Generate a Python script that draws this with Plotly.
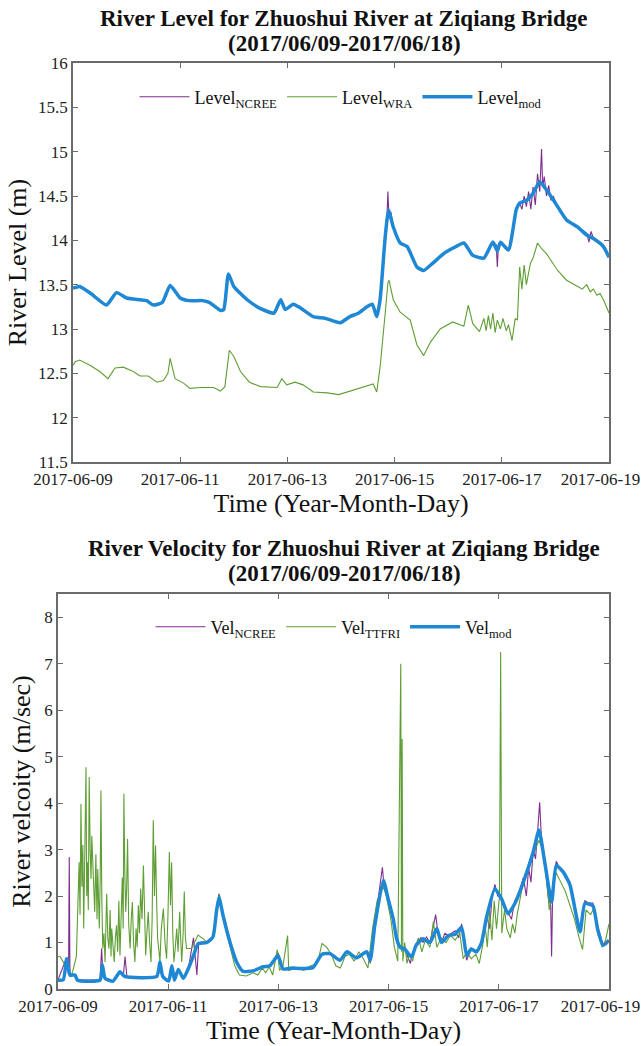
import pandas as pd
import plotly.graph_objects as go

T0 = pd.Timestamp("2017-06-09 00:00")

# ---------------- Top: river level (hours after 2017-06-09 00:00, metres) ----------------
lvl_mod_h = [0, 3, 8, 15, 19.5, 24, 30, 33, 36, 40, 43.5, 48, 52, 58, 61, 66, 67.5, 69.6, 72, 78,
             84, 90, 93, 95, 98.6, 101.7, 107.5, 113, 119.6, 124, 128, 131.6, 134, 136, 137.5,
             139.8, 141.3, 143.4, 146.5, 149.6, 154, 157, 161, 166, 170, 175, 179, 184, 188, 190,
             191.4, 195, 198.5, 200, 203, 206, 209, 212, 217, 221, 226, 230, 233, 237.5, 240]
lvl_mod_v = [13.46, 13.48, 13.40, 13.27, 13.41, 13.35, 13.33, 13.32, 13.27, 13.30, 13.49, 13.35,
             13.32, 13.32, 13.30, 13.21, 13.22, 13.62, 13.48, 13.33, 13.23, 13.18, 13.33, 13.22,
             13.28, 13.24, 13.14, 13.12, 13.07, 13.14, 13.18, 13.25, 13.28, 13.14, 13.33, 14.04,
             14.34, 14.15, 13.97, 13.93, 13.70, 13.66, 13.74, 13.85, 13.91, 13.97, 13.83, 13.80,
             13.98, 13.88, 13.98, 13.89, 14.35, 14.42, 14.45, 14.53, 14.66, 14.57, 14.38, 14.23,
             14.15, 14.06, 14.02, 13.93, 13.81]

lvl_ncree_h = [0, 3, 8, 15, 19.5, 24, 30, 33, 36, 40, 43.5, 48, 52, 58, 61, 66, 67.5, 69.6, 72, 78,
               84, 90, 93, 95, 98.6, 101.7, 107.5, 113, 119.6, 124, 128, 131.6, 134, 136, 137.5,
               139.8, 140.5, 141.0, 141.5, 142.3, 143.4, 146.5, 149.6, 154, 157, 161, 166, 170,
               175, 179, 184, 188, 189.5, 190, 190.5, 191.4, 195, 198.5, 200, 201, 202, 203, 204,
               205, 206, 207, 208, 209, 209.8, 210.3, 211, 212, 213, 214, 215, 217, 221, 226, 230,
               231, 232, 233, 237.5, 240]
lvl_ncree_v = [13.46, 13.48, 13.40, 13.27, 13.42, 13.35, 13.33, 13.32, 13.27, 13.30, 13.50, 13.35,
               13.32, 13.32, 13.30, 13.21, 13.22, 13.63, 13.48, 13.33, 13.23, 13.18, 13.34, 13.22,
               13.28, 13.24, 13.14, 13.12, 13.06, 13.14, 13.18, 13.25, 13.28, 13.13, 13.33, 14.04,
               14.20, 14.55, 14.25, 14.32, 14.15, 13.97, 13.93, 13.70, 13.66, 13.74, 13.85, 13.91,
               13.97, 13.83, 13.80, 13.98, 13.95, 13.70, 13.95, 13.98, 13.89, 14.35, 14.42, 14.35,
               14.50, 14.38, 14.55, 14.35, 14.60, 14.40, 14.75, 14.55, 15.03, 14.60, 14.72, 14.50,
               14.62, 14.45, 14.50, 14.38, 14.23, 14.15, 14.08, 13.98, 14.10, 14.02, 13.93, 13.81]

lvl_wra_h = [0, 1, 3, 7.6, 12, 15.7, 18.8, 22.5, 27, 30, 33.7, 37.6, 40.5, 42.5, 43.5, 45.7, 49.5,
             52.4, 57, 63, 66, 68, 70, 72, 75, 79, 84, 91.4, 93.5, 95.7, 99.5, 103, 107.6, 113.8,
             119, 124, 128.6, 134.4, 136, 137.5, 139.8, 141, 141.5, 143.4, 146.5, 151, 154, 157,
             160, 164.4, 170, 175, 177, 179, 182, 184, 185, 186, 187, 188, 189, 190, 191.4, 192.5,
             194, 195, 196.6, 198, 199, 200, 201, 202, 203, 204.8, 206, 208, 210, 212, 217, 221,
             226, 228, 230, 231.6, 233, 234.6, 236, 237.5, 240]
lvl_wra_v = [12.59, 12.63, 12.65, 12.59, 12.52, 12.44, 12.56, 12.57, 12.52, 12.47, 12.47, 12.40,
             12.42, 12.50, 12.67, 12.44, 12.39, 12.33, 12.34, 12.34, 12.30, 12.35, 12.76, 12.69,
             12.52, 12.40, 12.35, 12.34, 12.44, 12.37, 12.40, 12.37, 12.29, 12.28, 12.26, 12.30,
             12.33, 12.38, 12.29, 12.57, 13.18, 13.52, 13.55, 13.33, 13.19, 13.10, 12.82, 12.70,
             12.85, 13.00, 13.08, 13.03, 13.27, 13.06, 12.97, 13.12, 12.98, 13.15, 13.00, 13.18,
             12.96, 13.10, 13.00, 13.12, 12.98, 13.05, 12.87, 13.12, 13.10, 13.70, 13.45, 13.72,
             13.50, 13.74, 13.80, 13.97, 13.90, 13.85, 13.66, 13.55, 13.48, 13.45, 13.50, 13.42,
             13.45, 13.38, 13.40, 13.33, 13.18]

# ---------------- Bottom: river velocity (hours, m/s) ----------------
vel_mod_h = [0, 2.3, 3.8, 5.2, 7.4, 8.5, 18.3, 19.3, 20.5, 24, 27, 29, 43, 44.4, 45.6, 48.2, 49.6,
             50.7, 52.4, 54.6, 56.8, 59, 61, 64.8, 67.5, 69, 70.1, 72, 75, 78, 80.6, 85, 89.4,
             92.3, 95.8, 98, 102, 105.4, 111, 115, 118.5, 122.8, 125.9, 130, 134.5, 136, 138,
             141.7, 143.8, 146, 147.5, 149, 151, 154, 156, 159, 162, 165, 167, 170, 173, 175.8,
             178, 180, 182.3, 184.5, 186.7, 190.3, 193.2, 196, 199, 202.7, 207, 209.5, 212, 215,
             217, 220, 223, 227.4, 229.5, 233, 235, 237.4, 240]
vel_mod_v = [0.19, 0.20, 0.65, 0.30, 0.30, 0.19, 0.19, 0.52, 0.23, 0.17, 0.37, 0.27, 0.27, 0.58,
             0.27, 0.17, 0.50, 0.19, 0.42, 0.23, 0.44, 0.72, 0.97, 1.00, 1.12, 1.66, 1.97, 1.56,
             0.99, 0.56, 0.38, 0.39, 0.48, 0.50, 0.72, 0.43, 0.45, 0.44, 0.46, 0.75, 0.76, 0.62,
             0.80, 0.67, 0.80, 0.62, 1.37, 2.34, 1.94, 1.51, 1.08, 0.90, 0.86, 0.69, 0.94, 1.08,
             1.00, 1.30, 1.00, 1.15, 1.18, 1.33, 0.72, 0.86, 0.80, 1.00, 1.55, 2.16, 1.94, 1.62,
             1.84, 2.30, 2.95, 3.42, 2.73, 1.87, 2.66, 2.52, 2.24, 1.23, 1.84, 1.79, 1.30, 0.94,
             1.05]

vel_ncree_h = [0, 3.8, 4.6, 4.9, 5.2, 7.4, 8.5, 18.3, 19, 19.6, 20.5, 24, 27, 28.5, 29.2, 30, 43,
               44.4, 45.6, 48.2, 49.6, 50.7, 52.4, 54.6, 56.8, 58, 59, 60.5, 61.3, 64.8, 67.5, 69,
               70.1, 72, 75, 78, 80.6, 85, 89.4, 92.3, 95.8, 98, 102, 105.4, 111, 115, 118.5,
               122.8, 125.9, 130, 134.5, 136, 138, 141.3, 142, 143.8, 146, 147.5, 149, 151, 153.5,
               154, 156, 158, 159, 160.5, 162, 164.5, 165.5, 167, 168.5, 170, 173, 174.5, 175.8,
               177, 178, 180, 182.3, 184.5, 186.7, 188, 189, 190.3, 191.5, 193.2, 194.5, 196,
               197.5, 199, 201, 202.7, 204, 205, 206, 207, 208, 209, 209.8, 210.5, 212, 213.5,
               214.6, 215, 215.4, 217, 218.5, 220, 223, 227.4, 229.5, 231, 233, 235, 237.4, 240]
vel_ncree_v = [0.20, 0.68, 0.30, 2.84, 0.30, 0.30, 0.19, 0.19, 0.87, 0.30, 0.23, 0.17, 0.37, 0.30,
               0.70, 0.27, 0.27, 0.60, 0.27, 0.17, 0.50, 0.19, 0.42, 0.23, 0.44, 0.80, 1.10, 0.30,
               1.00, 1.02, 1.12, 1.70, 2.05, 1.60, 1.00, 0.58, 0.38, 0.40, 0.50, 0.50, 0.78, 0.43,
               0.46, 0.44, 0.47, 0.76, 0.78, 0.62, 0.82, 0.67, 0.82, 0.55, 1.40, 2.62, 2.20, 2.00,
               1.55, 1.10, 0.90, 0.86, 0.55, 0.69, 0.97, 1.10, 1.00, 1.12, 1.00, 1.60, 1.20, 1.00,
               1.20, 1.15, 1.25, 1.10, 1.40, 0.95, 0.62, 0.88, 0.80, 1.00, 1.60, 1.30, 1.95, 2.25,
               2.00, 1.98, 1.75, 1.65, 1.50, 1.90, 2.10, 2.40, 2.00, 2.60, 2.30, 3.00, 2.80, 3.45,
               4.02, 3.30, 2.80, 2.00, 1.80, 0.70, 1.90, 2.75, 2.60, 2.55, 2.30, 1.25, 1.90, 1.85,
               1.85, 1.35, 0.95, 1.05]

vel_ttfri_h = [0, 0.9, 3, 6, 8, 8.6, 9.2, 9.6, 10, 10.4, 10.8, 11.2, 11.6, 12.0, 12.2, 12.5, 12.8,
               13.2, 13.6, 14.0, 14.4, 14.7, 15, 15.5, 16, 16.5, 17.0, 17.3, 17.7, 18, 18.4, 18.7,
               19.1, 19.5, 20.0, 20.5, 20.9, 21.2, 21.7, 22.2, 22.7, 23.1, 23.4, 24.0, 24.5, 25.0,
               25.5, 26.0, 26.5, 27, 27.5, 28, 28.4, 28.7, 29.1, 29.5, 29.9, 30.3, 30.8, 31.4,
               31.9, 32.4, 32.9, 33.5, 34.0, 34.5, 35, 35.5, 36, 36.6, 37.2, 37.7, 38.2, 38.7,
               39.3, 39.9, 40.5, 41.0, 41.5, 42.0, 42.5, 43.0, 43.4, 44.0, 44.4, 45.0, 45.9, 46.6,
               47.3, 47.9, 48.5, 49.0, 49.5, 50.0, 50.5, 51.1, 51.7, 52.3, 53, 53.5, 53.9, 54.5,
               55, 55.5, 56, 58.2, 61, 63.3, 65, 67, 69, 70.3, 72, 75, 77, 79, 82, 85, 87, 89,
               90.5, 92, 93.5, 95.5, 96.5, 98, 100, 100.5, 104, 107, 110, 113, 115, 117, 119, 121,
               123, 125, 127, 129, 131, 133, 135, 137, 139, 141.7, 143, 145, 146.5, 148, 149.3,
               149.6, 149.9, 150.2, 151, 152, 153, 154.5, 155.5, 157, 158.5, 160, 162, 163.5, 165,
               167, 169, 171, 173, 175, 176.5, 178, 180, 182, 183.5, 185, 186, 187, 188, 189, 190,
               191, 192.3, 192.8, 193.3, 194.5, 195.5, 197, 198, 199, 200, 201.5, 203, 205, 207,
               209.5, 211, 212.5, 214, 215.5, 217, 219, 221, 223, 225, 227, 228.5, 230, 232, 233.5,
               235, 237, 238.5, 240]
vel_ttfri_v = [0.70, 0.70, 0.52, 0.30, 0.70, 1.80, 2.73, 1.60, 3.98, 2.20, 3.10, 1.30, 2.60, 3.50,
               4.77, 2.00, 2.73, 1.70, 4.56, 3.00, 2.37, 3.30, 2.88, 1.90, 1.66, 2.90, 1.50, 2.58,
               1.90, 1.30, 2.40, 4.27, 1.90, 0.87, 1.20, 0.58, 1.40, 2.05, 1.10, 0.87, 1.70, 0.70,
               1.30, 0.90, 0.58, 1.10, 1.37, 0.80, 1.90, 0.72, 1.50, 2.40, 1.30, 4.20, 2.50, 1.66,
               2.20, 3.23, 1.40, 0.87, 1.50, 1.87, 1.00, 0.58, 1.30, 0.90, 1.80, 1.20, 2.16, 1.50,
               2.66, 1.60, 0.72, 1.20, 1.66, 1.00, 0.58, 1.50, 3.63, 2.00, 3.09, 1.80, 1.08, 0.80,
               0.58, 1.30, 1.73, 1.00, 0.65, 1.60, 2.95, 1.80, 2.73, 1.20, 0.58, 0.90, 1.30, 0.80,
               1.66, 1.00, 0.58, 1.20, 2.10, 1.10, 0.87, 0.87, 1.16, 1.08, 1.00, 1.05, 1.60, 2.05,
               1.50, 0.90, 0.50, 0.30, 0.28, 0.35, 0.30, 0.45, 0.35, 0.48, 0.30, 0.85, 0.40, 0.50,
               1.15, 0.40, 0.45, 0.40, 0.50, 0.55, 0.98, 0.90, 0.75, 0.50, 0.45, 0.70, 0.75, 0.60,
               0.80, 0.65, 0.45, 1.30, 1.90, 2.20, 2.00, 1.50, 0.90, 0.60, 7.00, 0.80, 5.38, 0.60,
               1.00, 0.55, 0.75, 0.60, 0.90, 1.10, 0.80, 1.05, 0.90, 1.45, 0.90, 1.10, 1.00, 1.15,
               1.05, 1.20, 0.65, 0.80, 0.65, 0.75, 0.55, 0.95, 1.40, 0.90, 1.70, 1.05, 1.90, 1.30,
               2.00, 7.25, 1.20, 1.70, 1.30, 1.10, 1.40, 1.20, 1.60, 2.00, 2.40, 2.70, 2.90, 3.20,
               3.00, 2.50, 1.70, 2.20, 2.50, 2.30, 2.10, 1.80, 1.50, 1.10, 0.85, 1.70, 1.60, 1.75,
               1.20, 0.90, 1.05, 1.40]

# ---------------- Axis ticks / labels ----------------
date_ticks = ["2017-06-09", "2017-06-11", "2017-06-13", "2017-06-15", "2017-06-17", "2017-06-19"]
date_tick_text = ["2017-06-09", "2017-06-11", "2017-06-13", "2017-06-15", "2017-06-17",
                  "2017-06-19\u00a0\u00a0\u00a0\u00a0"]
level_ticks = [11.5, 12, 12.5, 13, 13.5, 14, 14.5, 15, 15.5, 16]
level_tick_text = ["11.5", "12", "12.5", "13", "13.5", "14", "14.5", "15", "15.5", "16"]
vel_ticks = [0, 1, 2, 3, 4, 5, 6, 7, 8]

title_top = ["River Level for Zhuoshui River at Ziqiang Bridge", "(2017/06/09-2017/06/18)"]
title_bot = ["River Velocity for Zhuoshui River at Ziqiang Bridge", "(2017/06/09-2017/06/18)"]


def tt(hours):
    return T0 + pd.to_timedelta(hours, unit="h")


PURPLE = "#7E2F8E"
GREEN = "#5f9e34"
BLUE = "#1f88d4"
FONT = "Liberation Serif"

W, H = 641, 1046
fig = go.Figure()

fig.add_trace(go.Scatter(x=tt(lvl_ncree_h), y=lvl_ncree_v, mode="lines", name="Level<sub>NCREE</sub>",
                         line=dict(color=PURPLE, width=1.1), xaxis="x", yaxis="y", legend="legend"))
fig.add_trace(go.Scatter(x=tt(lvl_wra_h), y=lvl_wra_v, mode="lines", name="Level<sub>WRA</sub>",
                         line=dict(color=GREEN, width=1.1), xaxis="x", yaxis="y", legend="legend"))
fig.add_trace(go.Scatter(x=tt(lvl_mod_h), y=lvl_mod_v, mode="lines", name="Level<sub>mod</sub>",
                         line=dict(color=BLUE, width=3.5, shape="spline", smoothing=0.5),
                         xaxis="x", yaxis="y", legend="legend"))

fig.add_trace(go.Scatter(x=tt(vel_ncree_h), y=vel_ncree_v, mode="lines", name="Vel<sub>NCREE</sub>",
                         line=dict(color=PURPLE, width=1.1), xaxis="x2", yaxis="y2", legend="legend2"))
fig.add_trace(go.Scatter(x=tt(vel_ttfri_h), y=vel_ttfri_v, mode="lines", name="Vel<sub>TTFRI</sub>",
                         line=dict(color=GREEN, width=1.1), xaxis="x2", yaxis="y2", legend="legend2"))
fig.add_trace(go.Scatter(x=tt(vel_mod_h), y=vel_mod_v, mode="lines", name="Vel<sub>mod</sub>",
                         line=dict(color=BLUE, width=3.5, shape="spline", smoothing=0.5),
                         xaxis="x2", yaxis="y2", legend="legend2"))

axis_common = dict(showline=True, linecolor="#6b6b6b", linewidth=1.5, mirror="ticks",
                   ticks="inside", ticklen=5, tickcolor="#6b6b6b", tickwidth=1,
                   showgrid=False, zeroline=False,
                   tickfont=dict(family=FONT, size=17, color="#222222"), automargin=False)
xaxis_common = dict(type="date", range=[date_ticks[0], date_ticks[-1]], tickvals=date_ticks,
                    ticktext=date_tick_text, ticklabeloverflow="allow", ticklabelstandoff=1)

legend_common = dict(orientation="h", xanchor="center", yanchor="middle", itemwidth=50,
                     bgcolor="rgba(0,0,0,0)", font=dict(family=FONT, size=18, color="#111111"))

annotations = []
for lines, y0 in ((title_top, 19), (title_bot, 548)):
    for i, txt in enumerate(lines):
        annotations.append(dict(text="<b>" + txt + "</b>", x=344 / W, y=1 - (y0 + 25 * i) / H,
                                xref="paper", yref="paper", showarrow=False, xanchor="center",
                                yanchor="middle", font=dict(family=FONT, size=23, color="#111111")))

fig.update_layout(
    width=W, height=H, margin=dict(l=0, r=0, t=0, b=0),
    paper_bgcolor="white", plot_bgcolor="white",
    font=dict(family=FONT, color="#111111"),
    xaxis=dict(domain=[73 / W, 609 / W], anchor="y",
               title=dict(text="Time (Year-Month-Day)", font=dict(family=FONT, size=26), standoff=4),
               **xaxis_common, **axis_common),
    yaxis=dict(domain=[1 - 462 / H, 1 - 63 / H], anchor="x", range=[11.5, 16],
               tickvals=level_ticks, ticktext=level_tick_text,
               title=dict(text="River Level (m)", font=dict(family=FONT, size=26), standoff=4),
               **axis_common),
    xaxis2=dict(domain=[58 / W, 609 / W], anchor="y2",
                title=dict(text="Time (Year-Month-Day)", font=dict(family=FONT, size=26), standoff=4),
                **xaxis_common, **axis_common),
    yaxis2=dict(domain=[1 - 989 / H, 1 - 594 / H], anchor="x2", range=[0, 8.5],
                tickvals=vel_ticks,
                title=dict(text="River velcoity (m/sec)", font=dict(family=FONT, size=26), standoff=6),
                **axis_common),
    legend=dict(x=341 / W, y=1 - 97 / H, **legend_common),
    legend2=dict(x=334 / W, y=1 - 627 / H, **legend_common),
    annotations=annotations,
)

fig.write_html("out.html", config={"displayModeBar": False},
               post_script="document.body.style.margin='0';")
